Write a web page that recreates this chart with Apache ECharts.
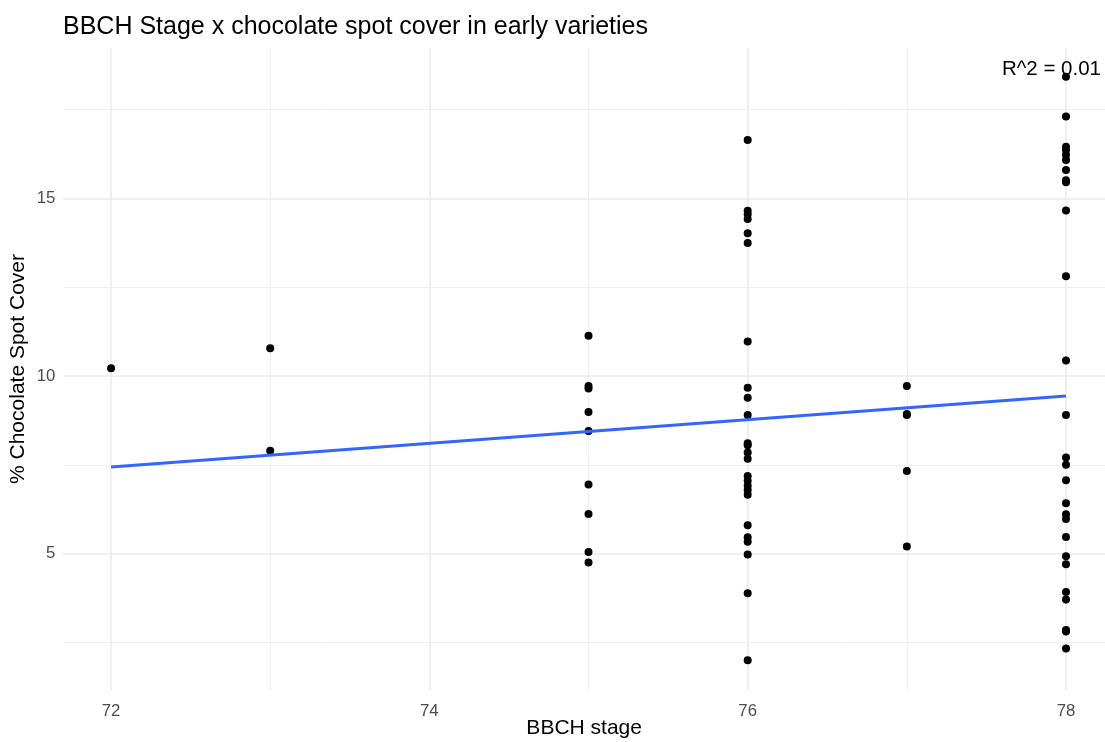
<!DOCTYPE html>
<html>
<head>
<meta charset="utf-8">
<script src="https://cdn.jsdelivr.net/npm/echarts@6/dist/echarts.min.js"></script>
<style>
html,body{margin:0;padding:0;background:#fff;}
#chart{width:1105px;height:742px;}
</style>
</head>
<body>
<div id="chart"></div>
<script>
// ---- data ----
var stage72 = [10.22];
var stage73 = [10.78, 7.90];
var stage75 = [11.13, 9.72, 9.65, 8.99, 8.45, 6.95, 6.12, 5.05, 4.75];
var stage76 = [16.64, 14.65, 14.55, 14.42, 14.02, 13.74, 10.97, 9.67, 9.39, 8.90,
               8.11, 8.05, 7.85, 7.67, 7.19, 7.05, 6.91, 6.79, 6.66, 5.80, 5.46, 5.34, 4.98, 3.89, 2.00];
var stage77 = [9.72, 8.93, 8.90, 7.33, 5.20];
var stage78 = [18.42, 17.30, 16.45, 16.36, 16.22, 16.08, 15.80, 15.51, 15.45, 14.66, 12.81, 10.44, 8.90,
               7.71, 7.50, 7.07, 6.42, 6.11, 5.98, 5.47, 4.93, 4.70, 3.92, 3.71, 2.85, 2.81, 2.33];
var fitX = [72, 78];
var fitY = [7.44, 9.44];
var xTicks = [72, 74, 76, 78];
var xMinor = [73, 75, 77];
var yTicks = [5, 10, 15];
var yMinor = [2.5, 7.5, 12.5, 17.5];
var titleText = 'BBCH Stage x chocolate spot cover in early varieties';
var r2Text = 'R^2 = 0.01';

// ---- build ----
var stages = [[72, stage72], [73, stage73], [75, stage75], [76, stage76], [77, stage77], [78, stage78]];
var points = [];
stages.forEach(function (s) { s[1].forEach(function (v) { points.push([s[0], v]); }); });
var fitLine = fitX.map(function (x, i) { return [x, fitY[i]]; });

var FONT = '"Liberation Sans", Arial, Helvetica, sans-serif';
var majorStyle = { color: '#EBEBEB', width: 1.6, type: 'solid' };
var minorStyle = { color: '#EBEBEB', width: 0.8, type: 'solid' };
var gridLines = [];
xTicks.forEach(function (v) { gridLines.push({ xAxis: v, lineStyle: majorStyle }); });
xMinor.forEach(function (v) { gridLines.push({ xAxis: v, lineStyle: minorStyle }); });
yTicks.forEach(function (v) { gridLines.push({ yAxis: v, lineStyle: majorStyle }); });
yMinor.forEach(function (v) { gridLines.push({ yAxis: v, lineStyle: minorStyle }); });

var chart = echarts.init(document.getElementById('chart'), null, { renderer: 'canvas' });
chart.setOption({
  animation: false,
  backgroundColor: '#ffffff',
  textStyle: { fontFamily: FONT },
  title: {
    text: titleText, left: 58, top: 10,
    textStyle: { fontFamily: FONT, fontSize: 25, fontWeight: 'normal', color: '#000000' }
  },
  grid: { left: 63.3, right: 0, top: 48, bottom: 52, containLabel: false, outerBoundsMode: 'none' },
  xAxis: {
    type: 'value', min: 71.70, max: 78.245,
    name: 'BBCH stage', nameLocation: 'middle', nameGap: 28, nameMoveOverlap: false,
    nameTextStyle: { fontFamily: FONT, fontSize: 21, color: '#000000' },
    axisLine: { show: false }, axisTick: { show: false }, splitLine: { show: false },
    axisLabel: { customValues: xTicks, margin: 13, fontSize: 16.8, color: '#4D4D4D', fontFamily: FONT }
  },
  yAxis: {
    type: 'value', min: 1.165, max: 19.23,
    name: '% Chocolate Spot Cover', nameLocation: 'middle', nameGap: 35, nameMoveOverlap: false,
    nameTextStyle: { fontFamily: FONT, fontSize: 21, color: '#000000' },
    axisLine: { show: false }, axisTick: { show: false }, splitLine: { show: false },
    axisLabel: { customValues: yTicks, margin: 8, fontSize: 16.8, color: '#4D4D4D', fontFamily: FONT }
  },
  graphic: [{
    type: 'text', right: 4, top: 59, z: 100, zlevel: 2,
    style: { text: r2Text, fontFamily: FONT, fontSize: 20.5, fill: '#000000' }
  }],
  series: [
    {
      type: 'scatter', data: [], silent: true, z: 1, zlevel: 0,
      markLine: { silent: true, symbol: 'none', label: { show: false }, animation: false, data: gridLines }
    },
    {
      type: 'scatter', data: points, symbolSize: 8, z: 3, zlevel: 1,
      itemStyle: { color: '#000000', opacity: 1 }
    },
    {
      type: 'line', data: fitLine, z: 4, zlevel: 1, symbol: 'none',
      lineStyle: { color: '#3366FF', width: 3 }
    }
  ]
});
</script>
</body>
</html>
